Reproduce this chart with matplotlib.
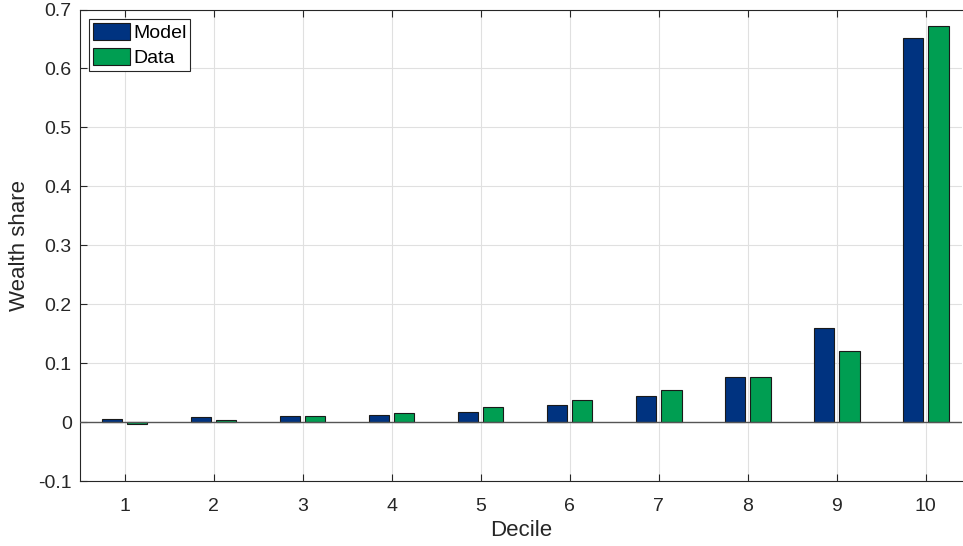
import numpy as np
import matplotlib
matplotlib.use("Agg")
import matplotlib.pyplot as plt

plt.rcParams["font.family"] = ["Liberation Sans", "DejaVu Sans"]

deciles = [1, 2, 3, 4, 5, 6, 7, 8, 9, 10]
model_share = [0.005, 0.008, 0.011, 0.012, 0.017, 0.029, 0.045, 0.077, 0.160, 0.652]
data_share = [-0.003, 0.004, 0.010, 0.016, 0.025, 0.038, 0.054, 0.076, 0.120, 0.672]

MODEL_COLOR = "#003380"
DATA_COLOR = "#009E52"

fig = plt.figure(figsize=(9.63, 5.46), dpi=100)
ax = fig.add_axes([0.0831, 0.119, 0.9159, 0.8636])

x = np.array(deciles, dtype=float)
w = 0.23
off = 0.143
ax.bar(x - off, model_share, width=w, color=MODEL_COLOR, edgecolor="#1a1a1a",
       linewidth=0.8, label="Model", zorder=3)
ax.bar(x + off, data_share, width=w, color=DATA_COLOR, edgecolor="#1a1a1a",
       linewidth=0.8, label="Data", zorder=3)
ax.axhline(0, color="#555555", linewidth=1.0, zorder=4)

ax.set_xlim(0.5, 10.41)
ax.set_ylim(-0.1, 0.7)
ax.set_xticks(deciles)
ax.set_yticks(np.arange(-0.1, 0.71, 0.1))
ax.set_yticklabels(["-0.1", "0", "0.1", "0.2", "0.3", "0.4", "0.5", "0.6", "0.7"])
ax.tick_params(direction="in", length=5, labelsize=14, colors="#262626",
               top=True, right=False)
ax.tick_params(axis="x", pad=12)
ax.tick_params(axis="y", pad=6)
ax.grid(True, color="#e0e0e0", linewidth=0.8, zorder=0)
ax.set_axisbelow(True)
for s in ["left", "bottom", "top"]:
    ax.spines[s].set_color("#262626")
    ax.spines[s].set_linewidth(0.8)
ax.spines["right"].set_visible(False)

ax.set_xlabel("Decile", fontsize=16, color="#262626", labelpad=4)
ax.set_ylabel("Wealth share", fontsize=16, color="#262626", labelpad=6)

leg = ax.legend(loc="upper left", bbox_to_anchor=(0.0105, 0.979), fontsize=14,
                frameon=True, fancybox=False, framealpha=1, edgecolor="#262626",
                handlelength=1.9, handleheight=0.93, handletextpad=0.15,
                borderpad=0.2, labelspacing=0.3, borderaxespad=0)
leg.get_frame().set_linewidth(0.8)

fig.savefig("out.png", dpi=100)
